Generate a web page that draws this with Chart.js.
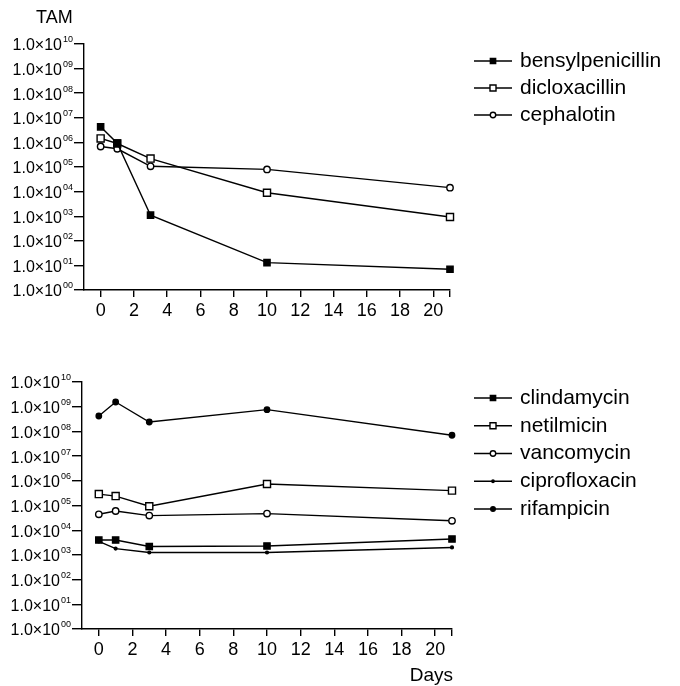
<!DOCTYPE html>
<html>
<head>
<meta charset="utf-8">
<script src="https://cdn.jsdelivr.net/npm/chart.js@4.4.1/dist/chart.umd.min.js"></script>
<style>
  html, body { margin: 0; padding: 0; background: #fff; }
  #wrap { position: relative; width: 680px; height: 686px; }
  #c1 { position: absolute; left: 0; top: 0; }
  #c2 { position: absolute; left: 0; top: 340px; }
</style>
</head>
<body>
<div id="wrap">
  <canvas id="c1" width="680" height="340"></canvas>
  <canvas id="c2" width="680" height="346"></canvas>
</div>
<script>
// days of sampling
const DAYS = [0, 1, 3, 10, 21];

// top panel (beta-lactams)
const BENSYLPENICILLIN = [4.3e6, 9.3e5, 1.1e3, 13, 7];
const DICLOXACILLIN = [1.45e6, 9.0e5, 2.2e5, 9.0e3, 9.3e2];
const CEPHALOTIN = [6.8e5, 5.5e5, 1.07e5, 8.0e4, 1.45e4];

// bottom panel
const CLINDAMYCIN = [4.0e3, 4.0e3, 2.2e3, 2.3e3, 4.4e3];
const NETILMICIN = [2.9e5, 2.4e5, 9.3e4, 7.4e5, 4.0e5];
const VANCOMYCIN = [4.4e4, 6.0e4, 3.9e4, 4.7e4, 2.4e4];
const CIPROFLOXACIN = [3.5e3, 1.8e3, 1.25e3, 1.25e3, 2.0e3];
const RIFAMPICIN = [4.2e8, 1.55e9, 2.4e8, 7.6e8, 7.0e7];

// axis ticks
const Y_TICKS = [1, 1e1, 1e2, 1e3, 1e4, 1e5, 1e6, 1e7, 1e8, 1e9, 1e10];
const Y_TICK_EXP = ['00', '01', '02', '03', '04', '05', '06', '07', '08', '09', '10'];
const X_TICKS = [0, 2, 4, 6, 8, 10, 12, 14, 16, 18, 20, 21];
const X_TICK_LABELS = ['0', '2', '4', '6', '8', '10', '12', '14', '16', '18', '20', ''];

const FONT = '"Liberation Sans", Arial, Helvetica, sans-serif';

function series(label, values, style, radius, fill) {
  return {
    label,
    data: DAYS.map((d, i) => ({ x: d, y: values[i] })),
    borderColor: '#000',
    borderWidth: 1.4,
    pointStyle: style,
    pointRadius: radius,
    pointBackgroundColor: fill,
    pointBorderColor: '#000',
    pointBorderWidth: 1.4,
    tension: 0,
    clip: false
  };
}

function drawMarker(ctx, style, r, fill, x, y) {
  ctx.save();
  ctx.fillStyle = fill;
  ctx.strokeStyle = '#000';
  ctx.lineWidth = 1.4;
  ctx.beginPath();
  if (style === 'rect') {
    const h = r * Math.SQRT1_2;
    ctx.rect(x - h, y - h, 2 * h, 2 * h);
  } else {
    ctx.arc(x, y, r, 0, Math.PI * 2);
  }
  ctx.fill();
  ctx.stroke();
  ctx.restore();
}

// y labels like 1.0x10^05, legend, and free texts
const decoPlugin = {
  id: 'deco',
  afterDraw(chart, args, opts) {
    const ctx = chart.ctx;
    const ys = chart.scales.y;
    ctx.save();
    ctx.fillStyle = '#000';
    Y_TICKS.forEach((v, i) => {
      const py = ys.getPixelForValue(v);
      ctx.font = '16px ' + FONT;
      ctx.textAlign = 'right';
      ctx.textBaseline = 'middle';
      ctx.fillText('1.0\u00d710', ys.right - 22, py + 2);
      ctx.font = '9px ' + FONT;
      ctx.textAlign = 'left';
      ctx.fillText(Y_TICK_EXP[i], ys.right - 21, py - 4);
    });

    // legend
    chart.data.datasets.forEach((ds, i) => {
      const y = opts.legendY + i * opts.legendGap;
      ctx.strokeStyle = '#000';
      ctx.lineWidth = 1.4;
      ctx.beginPath();
      ctx.moveTo(opts.legendX, y);
      ctx.lineTo(opts.legendX + 38, y);
      ctx.stroke();
      drawMarker(ctx, ds.pointStyle, ds.pointRadius * 0.85, ds.pointBackgroundColor, opts.legendX + 19, y);
      ctx.fillStyle = '#000';
      ctx.font = '21px ' + FONT;
      ctx.textAlign = 'left';
      ctx.textBaseline = 'middle';
      ctx.fillText(ds.label, opts.legendX + 46, y);
    });

    (opts.texts || []).forEach(t => {
      ctx.font = t.font + ' ' + FONT;
      ctx.textAlign = t.align;
      ctx.textBaseline = 'alphabetic';
      ctx.fillText(t.text, t.x, t.y);
    });
    ctx.restore();
  }
};

function makeChart(canvasId, datasets, pad, axisW, axisH, deco) {
  return new Chart(document.getElementById(canvasId), {
    type: 'line',
    data: { datasets },
    plugins: [decoPlugin],
    options: {
      responsive: false,
      animation: false,
      layout: { padding: pad },
      plugins: { legend: { display: false }, tooltip: { enabled: false }, deco },
      scales: {
        x: {
          type: 'linear',
          min: -1,
          max: 21,
          afterBuildTicks: s => { s.ticks = X_TICKS.map(v => ({ value: v })); },
          afterFit: s => { s.height = axisH; },
          border: { color: '#000', width: 1.4 },
          grid: { drawOnChartArea: false, drawTicks: true, tickLength: 7, color: '#000', lineWidth: 1.4 },
          ticks: {
            color: '#000',
            font: { family: FONT, size: 18 },
            padding: 3,
            maxRotation: 0,
            autoSkip: false,
            callback: v => X_TICK_LABELS[X_TICKS.indexOf(v)]
          }
        },
        y: {
          type: 'logarithmic',
          min: 1,
          max: 1e10,
          afterBuildTicks: s => { s.ticks = Y_TICKS.map(v => ({ value: v })); },
          afterFit: s => { s.width = axisW; },
          border: { color: '#000', width: 1.4 },
          grid: { drawOnChartArea: false, drawTicks: true, tickLength: 10, color: '#000', lineWidth: 1.4 },
          ticks: { display: false }
        }
      }
    }
  });
}

makeChart('c1', [
  series('bensylpenicillin', BENSYLPENICILLIN, 'rect', 4.4, '#000'),
  series('dicloxacillin', DICLOXACILLIN, 'rect', 5, '#fff'),
  series('cephalotin', CEPHALOTIN, 'circle', 3.2, '#fff')
], { left: 0, top: 44, right: 230, bottom: 10 }, 84, 40, {
  legendX: 474, legendY: 61, legendGap: 27,
  texts: [{ text: 'TAM', x: 36, y: 23, align: 'left', font: '18px' }]
});

makeChart('c2', [
  series('clindamycin', CLINDAMYCIN, 'rect', 4.4, '#000'),
  series('netilmicin', NETILMICIN, 'rect', 5, '#fff'),
  series('vancomycin', VANCOMYCIN, 'circle', 3.2, '#fff'),
  series('ciprofloxacin', CIPROFLOXACIN, 'circle', 1.4, '#000'),
  series('rifampicin', RIFAMPICIN, 'circle', 2.7, '#000')
], { left: 0, top: 42, right: 228, bottom: 17 }, 82, 40, {
  legendX: 474, legendY: 58, legendGap: 27.75,
  texts: [{ text: 'Days', x: 453, y: 341, align: 'right', font: '19px' }]
});
</script>
</body>
</html>
